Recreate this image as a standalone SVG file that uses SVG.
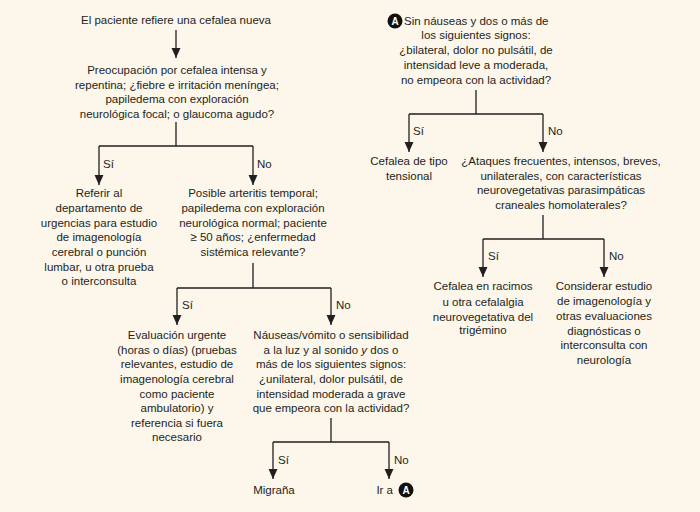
<svg xmlns="http://www.w3.org/2000/svg" width="700" height="512" viewBox="0 0 700 512">
<defs>
<style>
text{font-family:"Liberation Sans",Arial,sans-serif;font-size:11.5px;fill:#231f20;text-anchor:middle}
.l{text-anchor:start}
.e{text-anchor:end}
.c{fill:none;stroke:#231f20;stroke-width:1.3}
.badge{fill:#111}
.bt{fill:#fff;font-weight:bold;font-size:10px;text-anchor:middle}
</style>
<marker id="ah" markerUnits="userSpaceOnUse" markerWidth="10" markerHeight="10" viewBox="0 0 9 8" refX="9" refY="4" orient="auto">
<path d="M0,0 L9,4 L0,8 z" fill="#231f20"/>
</marker>
</defs>
<rect width="700" height="512" fill="#fdf6eb"/>
<g id="connectors">
<path class="c" d="M176,30 V58" marker-end="url(#ah)"/>
<path class="c" d="M176,122 V146 M99,146 H253"/>
<path class="c" d="M99,146 V185" marker-end="url(#ah)"/>
<path class="c" d="M253,146 V185" marker-end="url(#ah)"/>
<path class="c" d="M253,263 V288 M177,288 H331"/>
<path class="c" d="M177,288 V325" marker-end="url(#ah)"/>
<path class="c" d="M331,288 V325" marker-end="url(#ah)"/>
<path class="c" d="M331,418 V442 M273,442 H389"/>
<path class="c" d="M273,442 V479" marker-end="url(#ah)"/>
<path class="c" d="M389,442 V479" marker-end="url(#ah)"/>
<path class="c" d="M476,90 V114 M409,114 H543"/>
<path class="c" d="M409,114 V152" marker-end="url(#ah)"/>
<path class="c" d="M543,114 V152" marker-end="url(#ah)"/>
<path class="c" d="M543,215 V239 M483,239 H604"/>
<path class="c" d="M483,239 V277" marker-end="url(#ah)"/>
<path class="c" d="M604,239 V277" marker-end="url(#ah)"/>
<text class="l" x="103" y="168">Sí</text>
<text class="l" x="257" y="168">No</text>
<text class="l" x="182" y="309">Sí</text>
<text class="l" x="336" y="309">No</text>
<text class="l" x="278" y="464">Sí</text>
<text class="l" x="394" y="464">No</text>
<text class="l" x="413" y="135">Sí</text>
<text class="l" x="548" y="135">No</text>
<text class="l" x="488" y="260">Sí</text>
<text class="l" x="609" y="260">No</text>
</g>
<g id="n1"><text x="176" y="24">El paciente refiere una cefalea nueva</text></g>
<g id="n2">
<text x="177" y="74">Preocupación por cefalea intensa y</text>
<text x="177" y="88.5">repentina; ¿fiebre e irritación meníngea;</text>
<text x="177" y="103">papiledema con exploración</text>
<text x="177" y="117.5">neurológica focal; o glaucoma agudo?</text>
</g>
<g id="n3">
<text x="99" y="197">Referir al</text>
<text x="99" y="212">departamento de</text>
<text x="99" y="226.5">urgencias para estudio</text>
<text x="99" y="241">de imagenología</text>
<text x="99" y="256">cerebral o punción</text>
<text x="99" y="270.5">lumbar, u otra prueba</text>
<text x="99" y="285">o interconsulta</text>
</g>
<g id="n4">
<text x="253" y="197">Posible arteritis temporal;</text>
<text x="253" y="212">papiledema con exploración</text>
<text x="253" y="226.5">neurológica normal; paciente</text>
<text x="253" y="241">≥ 50 años; ¿enfermedad</text>
<text x="253" y="256">sistémica relevante?</text>
</g>
<g id="n5">
<text x="177" y="339">Evaluación urgente</text>
<text x="177" y="353.5">(horas o días) (pruebas</text>
<text x="177" y="368">relevantes, estudio de</text>
<text x="177" y="383">imagenología cerebral</text>
<text x="177" y="397.5">como paciente</text>
<text x="177" y="412">ambulatorio) y</text>
<text x="177" y="426.5">referencia si fuera</text>
<text x="177" y="441">necesario</text>
</g>
<g id="n6">
<text x="331" y="339">Náuseas/vómito o sensibilidad</text>
<text x="331" y="353.5">a la luz y al sonido <tspan font-style="italic">y</tspan> dos o</text>
<text x="331" y="368">más de los siguientes signos:</text>
<text x="331" y="383">¿unilateral, dolor pulsátil, de</text>
<text x="331" y="397.5">intensidad moderada a grave</text>
<text x="331" y="412">que empeora con la actividad?</text>
</g>
<g id="n7"><text x="274" y="494">Migraña</text></g>
<g id="n8">
<text class="e" x="393" y="494">Ir a</text>
<circle class="badge" cx="406" cy="490" r="7.5"/>
<text class="bt" x="406" y="493.5">A</text>
</g>
<g id="n9">
<circle class="badge" cx="395" cy="21" r="7.5"/>
<text class="bt" x="395" y="24.5">A</text>
<text class="l" x="404" y="25">Sin náuseas y dos o más de</text>
<text x="476" y="39">los siguientes signos:</text>
<text x="476" y="54">¿bilateral, dolor no pulsátil, de</text>
<text x="476" y="69">intensidad leve a moderada,</text>
<text x="476" y="84">no empeora con la actividad?</text>
</g>
<g id="n10">
<text x="409" y="165">Cefalea de tipo</text>
<text x="409" y="179.5">tensional</text>
</g>
<g id="n11">
<text x="561" y="165">¿Ataques frecuentes, intensos, breves,</text>
<text x="561" y="179.5">unilaterales, con características</text>
<text x="561" y="194">neurovegetativas parasimpáticas</text>
<text x="561" y="208.5">craneales homolaterales?</text>
</g>
<g id="n12">
<text x="483" y="290">Cefalea en racimos</text>
<text x="483" y="305.5">u otra cefalalgia</text>
<text x="483" y="320.5">neurovegetativa del</text>
<text x="483" y="334">trigémino</text>
</g>
<g id="n13">
<text x="604" y="290">Considerar estudio</text>
<text x="604" y="305">de imagenología y</text>
<text x="604" y="320">otras evaluaciones</text>
<text x="604" y="334.5">diagnósticas o</text>
<text x="604" y="349">interconsulta con</text>
<text x="604" y="364">neurología</text>
</g>
</svg>
